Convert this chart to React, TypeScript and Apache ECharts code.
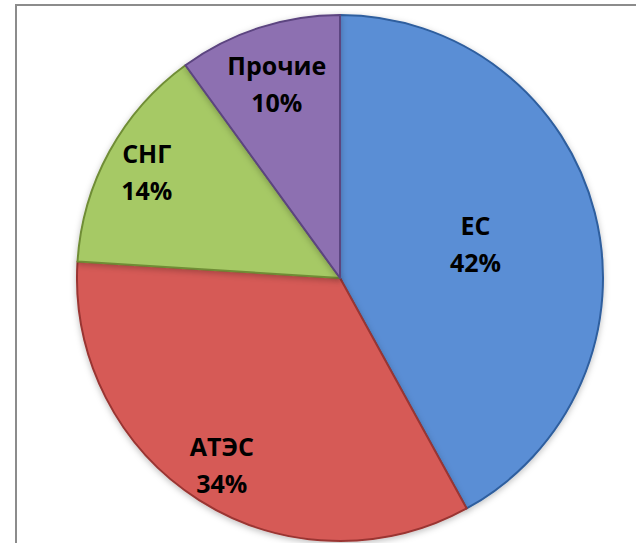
import React, { useEffect, useRef } from "react";
import * as echarts from "echarts";

const categories = ["ЕС", "АТЭС", "СНГ", "Прочие"];
const values = [42, 34, 14, 10];
const colors = ["#5A8ED5", "#D65A57", "#A6C965", "#8D70B1"];
const borders = ["#2F5E9E", "#9A3532", "#6F8D36", "#5C4480"];
// radial placement of each label as a fraction of the radius
const labelRadius = [0.52, 0.82, 0.82, 0.76];

const CENTER = [340, 278];
const RADIUS = 263;

export default function App() {
  const ref = useRef<HTMLDivElement>(null);
  useEffect(() => {
    if (!ref.current) return;
    const chart = echarts.init(ref.current, undefined, { renderer: "svg" });
    chart.setOption({
      animation: false,
      backgroundColor: "#ffffff",
      graphic: [
        {
          type: "rect",
          shape: { x: 16, y: 5, width: 800, height: 800 },
          style: { fill: "none", stroke: "#8c8c8c", lineWidth: 2 },
          z: -1,
        },
      ],
      series: [
        {
          type: "pie",
          center: CENTER,
          radius: RADIUS,
          startAngle: 90,
          clockwise: true,
          data: categories.map((name, i) => ({
            name,
            value: values[i],
            itemStyle: {
              color: colors[i],
              borderColor: borders[i],
              borderWidth: 2,
              shadowBlur: 6,
              shadowColor: "rgba(0,0,0,0.25)",
              shadowOffsetY: 2,
            },
          })),
          label: {
            show: true,
            position: "inside",
            formatter: "{b}\n{d}%",
            fontFamily: "Open Sans",
            fontWeight: "bold",
            fontSize: 25,
            lineHeight: 37,
            color: "#000000",
          },
          labelLine: { show: false },
          labelLayout: (p: any) => {
            const r = p.labelRect;
            const cx = r.x + r.width / 2;
            const cy = r.y + r.height / 2;
            const k = labelRadius[p.dataIndex] / 0.5;
            return { dx: (cx - CENTER[0]) * (k - 1), dy: (cy - CENTER[1]) * (k - 1) };
          },
          emphasis: { disabled: true },
        },
      ],
    });
    return () => chart.dispose();
  }, []);
  return (
    <div
      ref={ref}
      style={{ position: "fixed", left: 0, top: 0, width: 636, height: 543 }}
    />
  );
}
